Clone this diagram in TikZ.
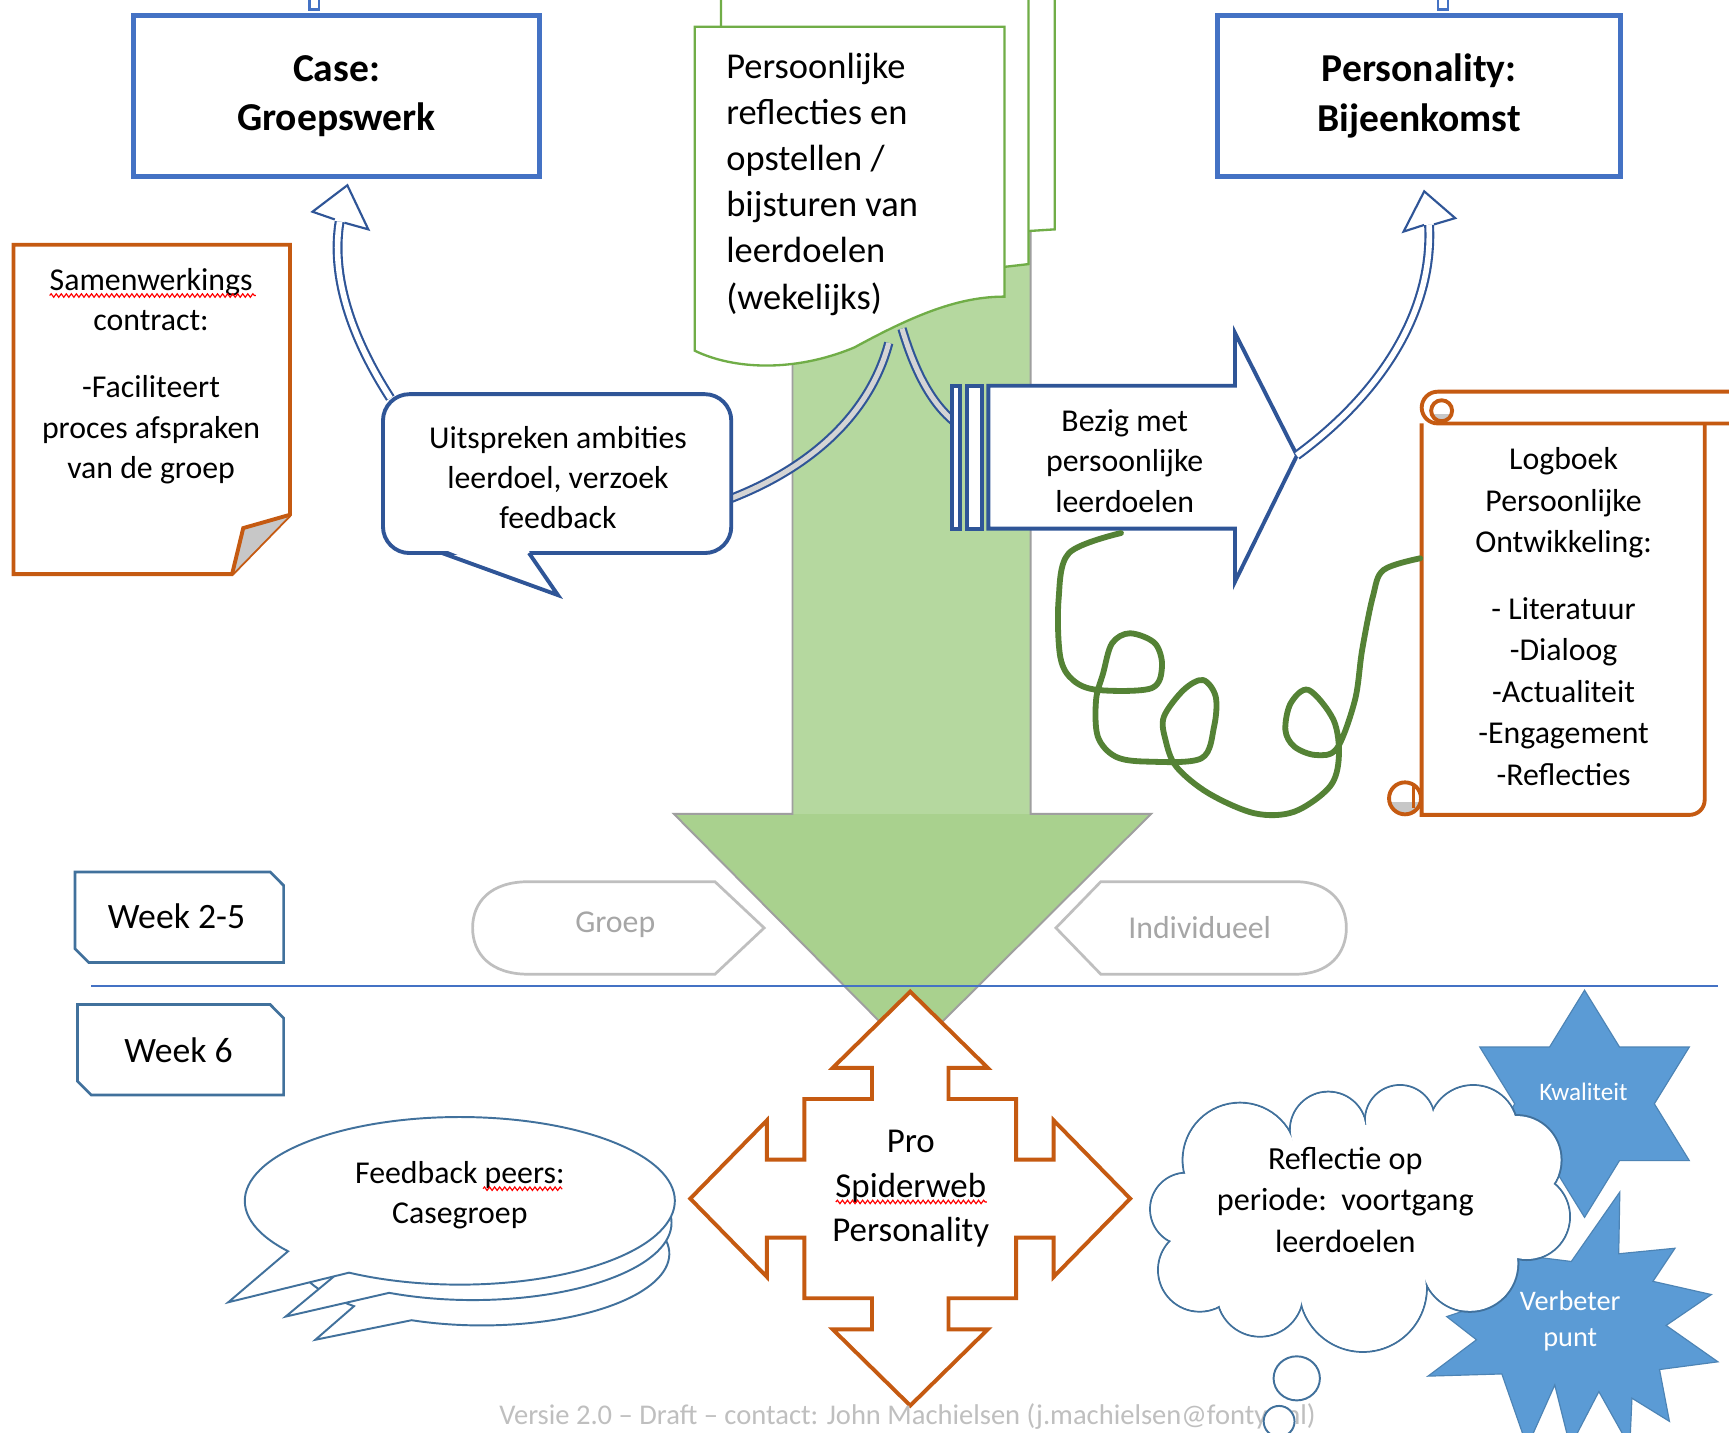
\documentclass[tikz,border=0pt]{standalone}
\usepackage{fontspec}
\setmainfont{Carlito}
\usepackage{graphicx}
\usetikzlibrary{shapes.symbols,decorations.pathmorphing,calc}
\definecolor{cblue}{HTML}{4472C4}
\definecolor{dblue}{HTML}{2F5597}
\definecolor{mblue}{HTML}{41719C}
\definecolor{wblue}{HTML}{41719C}
\definecolor{orng}{HTML}{C55A11}
\definecolor{lgreen}{HTML}{70AD47}
\definecolor{gfillH}{HTML}{A9D18E}
\definecolor{gfillS}{HTML}{B5D89F}
\definecolor{sblue}{HTML}{5B9BD5}
\definecolor{scrib}{HTML}{548235}
\definecolor{lgray}{HTML}{BFBFBF}
\definecolor{tgray}{HTML}{A6A6A6}
\begin{document}
\begin{tikzpicture}[x=0.01cm,y=-0.01cm,line join=miter,
  lbl/.style={inner sep=0pt, align=center, font=\fontsize{8.2}{10.4}\selectfont},
  bigbox/.style={draw=cblue, line width=1.2pt, fill=white, align=center, inner sep=0pt, font=\fontsize{10.2}{12.8}\selectfont\bfseries},
  docpage/.style={draw=lgreen, line width=0.6pt, fill=white},
  stub/.style={draw=cblue, line width=0.6pt, fill=white},
  hollowshaft/.style={draw=dblue, line width=0.55pt, double=white, double distance=1.45pt},
  hollowhead/.style={draw=dblue, line width=0.55pt, fill=white},
  grayshaft/.style={draw=dblue, line width=0.55pt, double=black!17, double distance=1.3pt},
  dkline/.style={draw=dblue, line width=1pt},
  orline/.style={draw=orng, line width=1pt},
  weekbox/.style={draw=wblue, line width=0.7pt, fill=white},
  pill/.style={draw=lgray, line width=0.7pt, fill=white},
  thinb/.style={draw=mblue, line width=0.5pt, fill=white},
  squig/.style={draw=red, line width=0.3pt, decorate, decoration={snake, amplitude=0.45pt, segment length=1.3pt}},
  starfill/.style={fill=sblue, draw=sblue!85!black, line width=0.3pt},
]
\useasboundingbox (0,0) rectangle (1568,1299);
\fill[white] (0,0) rectangle (1568,1299);

% ---------- big green arrow ----------
\fill[gfillH] (611,738) -- (826,955) -- (1044,738) -- cycle;
\fill[gfillS] (718.7,100) rectangle (934.6,738);
\draw[gray!75, line width=0.5pt] (718.7,100) -- (718.7,738) -- (611,738) -- (826,955) -- (1044,738) -- (934.6,738) -- (934.6,100);

% ---------- document stack ----------
\filldraw[docpage] (678,-10) -- (956.5,-10) -- (956.5,208) -- (933,209.5) -- (678,230) -- cycle;
\filldraw[docpage] (653.8,-10) -- (932.7,-10) -- (932.7,239.5) -- (911,242) -- (653.8,290) -- cycle;
\filldraw[docpage] (630,24.3) -- (910.9,24.3) -- (910.9,269) .. controls (870,269) and (830,285) .. (775,315) .. controls (720,338) and (665,335) .. (630,318) -- cycle;
\node[anchor=west, align=left, inner sep=0pt, font=\fontsize{9.4}{11.9}\selectfont] (doc) at (658,167) {Persoonlijke\\reflecties en\\opstellen /\\bijsturen van\\leerdoelen\\(wekelijks)};

% ---------- top boxes ----------
\draw[stub] (280.6,-5) rectangle (289.5,8.7);
\draw[stub] (1304,-5) rectangle (1313,8.7);
\node[bigbox, minimum width=3.675cm, minimum height=1.464cm] (case) at (305.2,87.1) {Case:\\Groepswerk};
\node[bigbox, minimum width=3.65cm, minimum height=1.464cm] (pers) at (1287,87.1) {Personality:\\Bijeenkomst};

% ---------- samenwerkings note ----------
\filldraw[orline, fill=white] (12.2,222) -- (263,222) -- (263,466.8) -- (210.5,520.6) -- (12.2,520.6) -- cycle;
\filldraw[orline, fill=black!22] (263,466.8) -- (220.6,478.9) -- (210.5,520.6);
\node[lbl] (note) at (137,341) {Samenwerkings\\contract:\\[7pt]-Faciliteert\\proces afspraken\\van de groep};
\draw[squig] (45,268) -- (232,268);

% ---------- gray connectors from the documents ----------
\coordinate (cS) at (806,311); \coordinate (cE) at (663,452);
\coordinate (dS) at (818,298); \coordinate (dE) at (866,383);
\draw[grayshaft] (cS) .. controls (790,372) and (740,422) .. (cE);
\draw[grayshaft] (dS) .. controls (830,338) and (845,366) .. (dE);

% ---------- Uitspreken callout ----------
\node[draw=dblue, line width=1pt, rounded corners=0.24cm, fill=white, minimum width=3.157cm, minimum height=1.44cm] (uit) at (505.25,429.5) {};
\fill[white] (402,498) -- (506,539.7) -- (478.5,498) -- cycle;
\draw[dkline] (400.8,501.5) -- (506,539.7) -- (479.7,501.5);
\node[lbl] (uittxt) at (506,433) {Uitspreken ambities\\leerdoel, verzoek\\feedback};

% ---------- Bezig striped arrow ----------
\filldraw[dkline, fill=white] (863,349.8) rectangle (870.6,479.4);
\filldraw[dkline, fill=white] (876.6,349.8) rectangle (890.2,479.4);
\filldraw[dkline, fill=white] (896.3,349.8) -- (1120,349.8) -- (1120,302) -- (1176.2,413) -- (1120,527.5) -- (1120,479.4) -- (896.3,479.4) -- cycle;
\node[lbl] (bezig) at (1020,418) {Bezig met\\persoonlijke\\leerdoelen};

% ---------- hollow curved arrows ----------
\coordinate (aS) at (354,361); \coordinate (aE) at (308,201);
\filldraw[hollowhead] (303.6,199) -- (283.4,192) -- (315,168) -- (334,208) -- (312.4,202);
\draw[hollowshaft] (aS) .. controls (318,305) and (300,250) .. (aE);
\coordinate (bS) at (1176,413); \coordinate (bE) at (1296,204);
\filldraw[hollowhead] (1291.5,204) -- (1272.9,210) -- (1291.6,173.5) -- (1319.7,197.8) -- (1300.5,203.5);
\draw[hollowshaft] (bS) .. controls (1255,355) and (1300,280) .. (bE);

% ---------- scroll ----------
\filldraw[orline, fill=white] (1289.3,384) -- (1289.3,739) -- (1532,739) .. controls (1540,739) and (1546,733) .. (1546,725) -- (1546,384);
\filldraw[orline, fill=white, rounded corners=0.145cm] (1289.3,355.2) rectangle (1585,384);
\begin{scope}
  \clip (1274.2,724) circle[radius=14.5];
  \fill[white] (1255,705) rectangle (1295,745);
  \fill[black!22] (1255,727) rectangle (1295,745);
\end{scope}
\draw[orline] (1274.2,724) circle[radius=14.5];
\draw[orng, line width=0.6pt] (1282,712) -- (1282,733);
\begin{scope}
  \clip (1307.4,372.5) circle[radius=9.5];
  \fill[white] (1295,360) rectangle (1320,385);
  \fill[black!22] (1295,375) rectangle (1320,385);
\end{scope}
\draw[orline] (1307.4,372.5) circle[radius=9.5];
\node[lbl, font=\fontsize{8.2}{10.7}\selectfont] (log) at (1418,559) {Logboek\\Persoonlijke\\Ontwikkeling:\\[6.5pt]- Literatuur\\-Dialoog\\-Actualiteit\\-Engagement\\-Reflecties};

% ---------- green scribble ----------
\coordinate (gS) at (1016.6,483.4); \coordinate (gE) at (1288,506.3);
\draw[scrib, line width=1.5pt, line cap=round, line join=round] plot[smooth, tension=0.55] coordinates {(gS) (969.4,501.6) (960,544) (961.5,595.5) (973,616.7) (995.6,625.7) (1044,624.2) (1053.8,604.6) (1047.4,583.4) (1024.8,574.3) (1008.5,583.4) (1000.4,610.6) (994,634.8) (995.6,668) (1011.8,686.2) (1041,690.7) (1089.5,687.7) (1101,659) (1102.5,631.8) (1091,616.7) (1073.4,625.7) (1055.5,650) (1057,671) (1066.8,695.3) (1096,719.4) (1138,737.6) (1173.8,736.1) (1206,713.4) (1214.2,686.2) (1209.4,653) (1186.7,625.7) (1170.5,637.8) (1165.7,662) (1173.8,677.1) (1193.2,684.7) (1212.5,678.6) (1228.8,634.8) (1235.3,589.5) (1245,541.1) (1254.7,516.9) (gE)};

% ---------- week boxes and separator ----------
\filldraw[weekbox] (68.1,790.7) -- (245,790.7) -- (257.2,803) -- (257.2,872.9) -- (80.5,872.9) -- (68.1,860.5) -- cycle;
\node[inner sep=0pt, font=\fontsize{9.2}{11}\selectfont] (w25) at (160,831) {Week 2-5};
\filldraw[weekbox] (70.3,911) -- (245,911) -- (257.2,923.3) -- (257.2,993) -- (82.7,993) -- (70.3,980.6) -- cycle;
\node[inner sep=0pt, font=\fontsize{9.2}{11}\selectfont] (w6) at (162,952) {Week 6};
\draw[cblue, line width=0.5pt] (82.6,894) -- (1558,894);

% ---------- Groep / Individueel ----------
\filldraw[pill] (479,799.6) -- (648.4,799.6) -- (693,841.5) -- (648.4,883.5) -- (479,883.5) .. controls (445,883.5) and (428.6,865) .. (428.6,841.5) .. controls (428.6,818) and (445,799.6) .. (479,799.6) -- cycle;
\node[lbl, text=tgray] (groep) at (558,839) {Groep};
\filldraw[pill] (998.3,799.6) -- (1175,799.6) .. controls (1205,799.6) and (1221,818) .. (1221,841.5) .. controls (1221,865) and (1205,883.5) .. (1175,883.5) -- (998.3,883.5) -- (957.6,841.5) -- cycle;
\node[lbl, text=tgray] (indiv) at (1088,841) {Individueel};

% ---------- orange four-way arrow ----------
\filldraw[orline, fill=white, shift={(825.5,1087)}] (0,-187.7) -- (70.3,-118.6) -- (34.65,-118.6) -- (34.65,-90.3) -- (96,-90.3) -- (96,-35.4) -- (130,-35.4) -- (130,-71) -- (199.5,0) -- (130,71) -- (130,35.4) -- (96,35.4) -- (96,90.3) -- (34.65,90.3) -- (34.65,118.6) -- (70.3,118.6) -- (0,187.7) -- (-70.3,118.6) -- (-34.65,118.6) -- (-34.65,90.3) -- (-96,90.3) -- (-96,35.4) -- (-130,35.4) -- (-130,71) -- (-199.5,0) -- (-130,-71) -- (-130,-35.4) -- (-96,-35.4) -- (-96,-90.3) -- (-34.65,-90.3) -- (-34.65,-118.6) -- (-70.3,-118.6) -- cycle;
\node[lbl, font=\fontsize{9}{11.5}\selectfont] (pro) at (826,1078) {Pro\\Spiderweb\\Personality};
\draw[squig] (758,1090) -- (895,1090);

% ---------- feedback speech bubbles ----------
\filldraw[thinb] ($(437,1137)+(133:170 and 65)$) arc[start angle=133, end angle=472, x radius=170, y radius=65] -- (286,1215) -- cycle;
\filldraw[thinb] ($(429,1109)+(135:180 and 70)$) arc[start angle=135, end angle=475, x radius=180, y radius=70] -- (259,1194) -- cycle;
\filldraw[thinb] ($(417,1089)+(143:195 and 76)$) arc[start angle=143, end angle=481, x radius=195, y radius=76] -- (207,1181) -- cycle;
\node[lbl] (fb) at (417,1084) {Feedback peers:\\Casegroep};
\draw[squig] (438,1078) -- (510,1078);

% ---------- stars ----------
\filldraw[starfill] (1437,898) -- (1468.7,949.5) -- (1532,949.5) -- (1500.3,1001) -- (1532,1052.5) -- (1468.7,1052.5) -- (1437,1104) -- (1405.3,1052.5) -- (1342,1052.5) -- (1373.7,1001) -- (1342,949.5) -- (1405.3,949.5) -- cycle;
\filldraw[starfill] (1469,1081) -- (1468,1137) -- (1519,1132) -- (1499,1162) -- (1552,1174) -- (1511,1202) -- (1558,1235) -- (1505,1242) -- (1514,1289) -- (1480,1268) -- (1478,1312) -- (1450,1262) -- (1424,1312) -- (1410,1256) -- (1385,1312) -- (1362,1246) -- (1295,1248) -- (1339,1215) -- (1312,1194) -- (1366,1176) -- (1369,1137) -- (1425,1144) -- cycle;

% ---------- cloud (union of puffs) ----------
\foreach \cx/\cy/\r in {1076/1096.5/33, 1088/1151.7/37.8, 1142.7/1172.9/39.3, 1236/1168/58, 1333/1145.7/44, 1384.5/1103.4/39.3, 1375.4/1052/40.8, 1336/1024.8/40.8, 1269.6/1015.7/31.7, 1204.6/1024.8/34.8, 1124.5/1052/52}
  \draw[mblue, line width=0.5pt] (\cx,\cy) circle[radius=\r];
\foreach \cx/\cy/\r in {1076/1096.5/33, 1088/1151.7/37.8, 1142.7/1172.9/39.3, 1236/1168/58, 1333/1145.7/44, 1384.5/1103.4/39.3, 1375.4/1052/40.8, 1336/1024.8/40.8, 1269.6/1015.7/31.7, 1204.6/1024.8/34.8, 1124.5/1052/52}
  \fill[white] (\cx,\cy) circle[radius=\r-0.95];
\fill[white] (1076,1096.5) -- (1088,1151.7) -- (1142.7,1172.9) -- (1236,1168) -- (1333,1145.7) -- (1384.5,1103.4) -- (1375.4,1052) -- (1336,1024.8) -- (1269.6,1015.7) -- (1204.6,1024.8) -- (1124.5,1052) -- cycle;
\node[lbl, font=\fontsize{8.3}{10.7}\selectfont] (refl) at (1220,1088) {Reflectie op\\periode:\ \ voortgang\\leerdoelen};
\node[lbl, text=white, font=\fontsize{6.5}{8}\selectfont] (kw) at (1436,990) {Kwaliteit};
\node[lbl, text=white, font=\fontsize{7.3}{9.4}\selectfont] (vb) at (1424,1198) {Verbeter\\punt};
\draw[thinb] (1176,1250) ellipse[x radius=21, y radius=20];

% ---------- footer ----------
\node[inner sep=0pt, text=lgray] (foot) at (823,1285) {\resizebox{7.4cm}{!}{\fontsize{6.8}{8}\selectfont Versie 2.0 – Draft – contact: John Machielsen (j.machielsen@fontys.nl)}};
\draw[thinb] (1160,1289) circle[radius=14];
\end{tikzpicture}
\end{document}
